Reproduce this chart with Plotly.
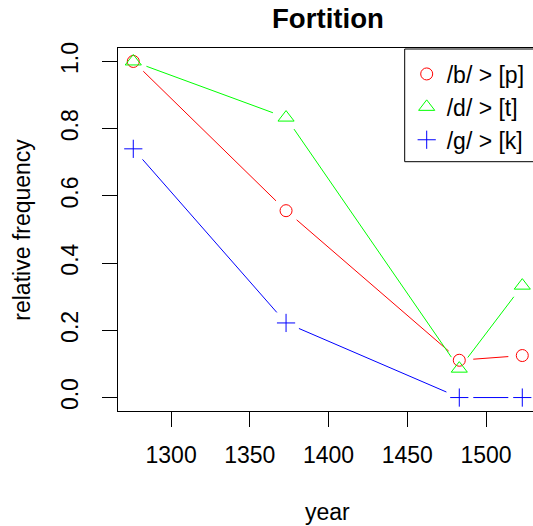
import math
import plotly.graph_objects as go

# ---- data ----
years = [1276, 1373, 1483, 1523]
b_p = [1.0, 0.556, 0.111, 0.125]
d_t = [1.0, 0.833, 0.086, 0.333]
g_k = [0.74, 0.222, 0.0, 0.0]
series_names = ["/b/ > [p]", "/d/ > [t]", "/g/ > [k]"]
series_values = [b_p, d_t, g_k]
x_ticks = [1300, 1350, 1400, 1450, 1500]
y_ticks = [0.0, 0.2, 0.4, 0.6, 0.8, 1.0]

# ---- layout / style ----
W, H = 533, 526
ML, MR, MT, MB = 118, 0, 48, 115
PW, PH = W - ML - MR, H - MT - MB
XR = [1266.3, 1529.8]
YR = [-0.04, 1.04]
SX = PW / (XR[1] - XR[0])
SY = PH / (YR[1] - YR[0])
GAP = 14  # px gap around points (R type="b")

colors = ["#FF0000", "#00FF00", "#0000FF"]
symbols = ["circle-open", "triangle-up-open", "cross-thin-open"]
sizes = [12, 14, 13]
FONT = "Liberation Sans, Arial, Helvetica, sans-serif"


def gapped(xs, ys):
    ox, oy = [], []
    for i in range(len(xs) - 1):
        dx = (xs[i + 1] - xs[i]) * SX
        dy = (ys[i + 1] - ys[i]) * SY
        L = math.hypot(dx, dy)
        if L <= 2 * GAP:
            continue
        f = GAP / L
        ox += [xs[i] + f * (xs[i + 1] - xs[i]), xs[i + 1] - f * (xs[i + 1] - xs[i]), None]
        oy += [ys[i] + f * (ys[i + 1] - ys[i]), ys[i + 1] - f * (ys[i + 1] - ys[i]), None]
    return ox, oy


fig = go.Figure()
for vals, c in zip(series_values, colors):
    lx, ly = gapped(years, vals)
    fig.add_trace(go.Scatter(x=lx, y=ly, mode="lines", line=dict(color=c, width=1),
                             showlegend=False, hoverinfo="skip"))
for name, vals, c, s, sz in zip(series_names, series_values, colors, symbols, sizes):
    fig.add_trace(go.Scatter(x=years, y=vals, mode="markers", name=name,
                             marker=dict(symbol=s, size=sz, color=c, line=dict(color=c, width=1))))


def px_to_xp(px):
    return (px - ML) / PW


def px_to_yp(py):
    return (H - MB - py) / PH


fig.update_layout(
    width=W, height=H,
    margin=dict(l=ML, r=MR, t=MT, b=MB, pad=0),
    paper_bgcolor="white", plot_bgcolor="white",
    font=dict(family=FONT, size=23, color="black"),
    showlegend=True,
    legend=dict(x=px_to_xp(406.7), y=px_to_yp(52.5), xanchor="left", yanchor="top",
                bgcolor="rgba(0,0,0,0)", borderwidth=0, font=dict(size=23),
                tracegroupgap=0),
    xaxis=dict(range=XR, tickvals=x_ticks, showgrid=False, zeroline=False,
               showline=True, linecolor="black", linewidth=1, mirror=True,
               ticks="outside", ticklen=15, tickwidth=1, tickcolor="black",
               ticklabelstandoff=8, tickfont=dict(size=23)),
    yaxis=dict(range=YR, tickvals=y_ticks, tickformat=".1f", tickangle=-90,
               showgrid=False, zeroline=False,
               showline=True, linecolor="black", linewidth=1,
               ticks="outside", ticklen=15, tickwidth=1, tickcolor="black",
               ticklabelstandoff=15, tickfont=dict(size=23)),
    shapes=[dict(type="rect", xref="paper", yref="paper",
                 x0=px_to_xp(404.7), x1=px_to_xp(560), y0=px_to_yp(161.7), y1=px_to_yp(49),
                 line=dict(color="black", width=1), fillcolor="rgba(0,0,0,0)")],
    annotations=[
        dict(text="<b>Fortition</b>", xref="paper", yref="paper", x=px_to_xp(327.7), y=px_to_yp(19),
             xanchor="center", yanchor="middle", showarrow=False, font=dict(size=27.6)),
        dict(text="year", xref="paper", yref="paper", x=px_to_xp(327.7), y=px_to_yp(512),
             xanchor="center", yanchor="middle", showarrow=False, font=dict(size=23)),
        dict(text="relative frequency", xref="paper", yref="paper", x=px_to_xp(22), y=px_to_yp(229.7),
             xanchor="center", yanchor="middle", textangle=-90, showarrow=False, font=dict(size=23)),
    ],
)

fig.write_html("out.html")
